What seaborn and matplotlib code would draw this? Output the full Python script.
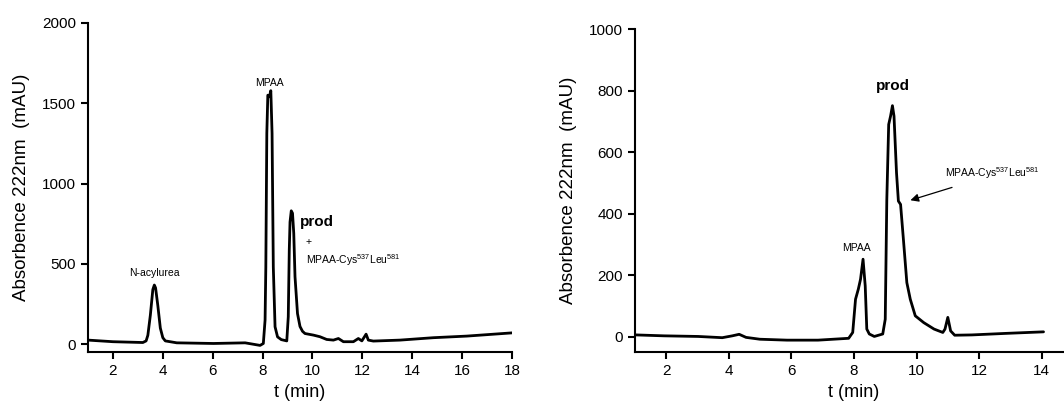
import numpy as np
import pandas as pd
import seaborn as sns
import matplotlib.pyplot as plt

# left chromatogram (t in min, absorbance in mAU)
t_left = [1.0, 2.0, 3.2, 3.33, 3.4, 3.5, 3.6, 3.66, 3.71, 3.8, 3.9, 4.0, 4.1,
          4.56, 6.03, 7.3, 7.9, 8.03, 8.1, 8.13, 8.17, 8.21, 8.27, 8.33, 8.38,
          8.43, 8.5, 8.6, 8.75, 8.97, 9.03, 9.07, 9.1, 9.15, 9.2, 9.25, 9.3,
          9.4, 9.5, 9.6, 9.7, 10.04, 10.3, 10.57, 10.84, 11.04, 11.24, 11.64,
          11.84, 11.98, 12.15, 12.24, 12.44, 13.51, 14.85, 16.19, 18.0]
a_left = [25, 15, 10, 20, 55, 180, 340, 368, 350, 240, 100, 40, 20,
          8, 4, 8, -8, 4, 150, 480, 1313, 1550, 1540, 1578, 1313,
          480, 108, 45, 28, 20, 170, 585, 760, 830, 815, 690, 420,
          190, 110, 80, 66, 56, 46, 29, 25, 35, 15, 15,
          35, 20, 62, 25, 19, 25, 40, 50, 70]

# right chromatogram
t_right = [1.03, 1.93, 3.02, 3.79, 4.11, 4.33, 4.55, 4.99, 5.86, 6.85, 7.83,
           7.96, 8.05, 8.14, 8.21, 8.29, 8.36, 8.41, 8.49, 8.65, 8.92, 9.0,
           9.05, 9.11, 9.17, 9.23, 9.28, 9.36, 9.42, 9.49, 9.58, 9.69, 9.8,
           9.96, 10.23, 10.56, 10.84, 10.91, 11.0, 11.09, 11.22, 11.77, 12.86,
           14.06]
a_right = [6, 3, 1, -3, 3, 8, -2, -8, -11, -11, -5,
           14, 122, 155, 187, 252, 165, 25, 9, 1, 9, 57,
           446, 690, 717, 751, 717, 533, 441, 430, 317, 176, 122,
           68, 46, 25, 14, 25, 63, 19, 5, 6, 11,
           16]

df_l = pd.DataFrame({"t": t_left, "A": a_left})
df_r = pd.DataFrame({"t": t_right, "A": a_right})

sns.set_style("ticks", {"text.color": "black", "xtick.color": "black",
                        "ytick.color": "black", "axes.labelcolor": "black",
                        "axes.edgecolor": "black"})
plt.rcParams['font.family'] = ['Liberation Sans', 'DejaVu Sans']
plt.rcParams['mathtext.default'] = 'regular'

fig = plt.figure(figsize=(10.64, 4.09), dpi=100)
ax1 = fig.add_axes([0.0827, 0.139, 0.3985, 0.805])
ax2 = fig.add_axes([0.5968, 0.139, 0.4116, 0.790])

for ax, df in [(ax1, df_l), (ax2, df_r)]:
    sns.lineplot(data=df, x="t", y="A", ax=ax, color="black", lw=2.0,
                 sort=False, estimator=None)
    sns.despine(ax=ax)
    ax.spines['left'].set_linewidth(1.5)
    ax.spines['bottom'].set_linewidth(1.5)
    ax.tick_params(direction='out', length=5, width=1.5, labelsize=11)
    ax.set_xlabel('t (min)', fontsize=13)
    ax.set_ylabel('Absorbence 222nm  (mAU)', fontsize=13.5, labelpad=9)

ax1.set_xlim(1, 18)
ax1.set_ylim(-50, 2000)
ax1.set_xticks(range(2, 19, 2))
ax1.set_yticks(range(0, 2001, 500))

ax2.set_xlim(1, 15)
ax2.set_ylim(-50, 1000)
ax2.set_xticks(range(2, 15, 2))
ax2.set_yticks(range(0, 1001, 200))

small = 7.5
ax1.text(3.65, 440, 'N-acylurea', fontsize=small, ha='center', va='center')
ax1.text(8.27, 1624, 'MPAA', fontsize=small, ha='center', va='center')
ax1.text(9.5, 762, 'prod', fontsize=11, fontweight='bold', ha='left', va='center')
ax1.text(9.84, 638, '+', fontsize=small, ha='center', va='center')
ax1.text(9.73, 523, 'MPAA-Cys$^{537}$Leu$^{581}$', fontsize=small, ha='left', va='center')

ax2.text(9.25, 814, 'prod', fontsize=11, fontweight='bold', ha='center', va='center')
ax2.text(8.07, 290, 'MPAA', fontsize=small, ha='center', va='center')
ax2.text(10.91, 533, 'MPAA-Cys$^{537}$Leu$^{581}$', fontsize=small, ha='left', va='center')
ax2.annotate('', xy=(9.72, 441), xytext=(11.22, 488),
             arrowprops=dict(arrowstyle='-|>', color='black', lw=0.9,
                             mutation_scale=12))

fig.savefig('out.png', dpi=100)
